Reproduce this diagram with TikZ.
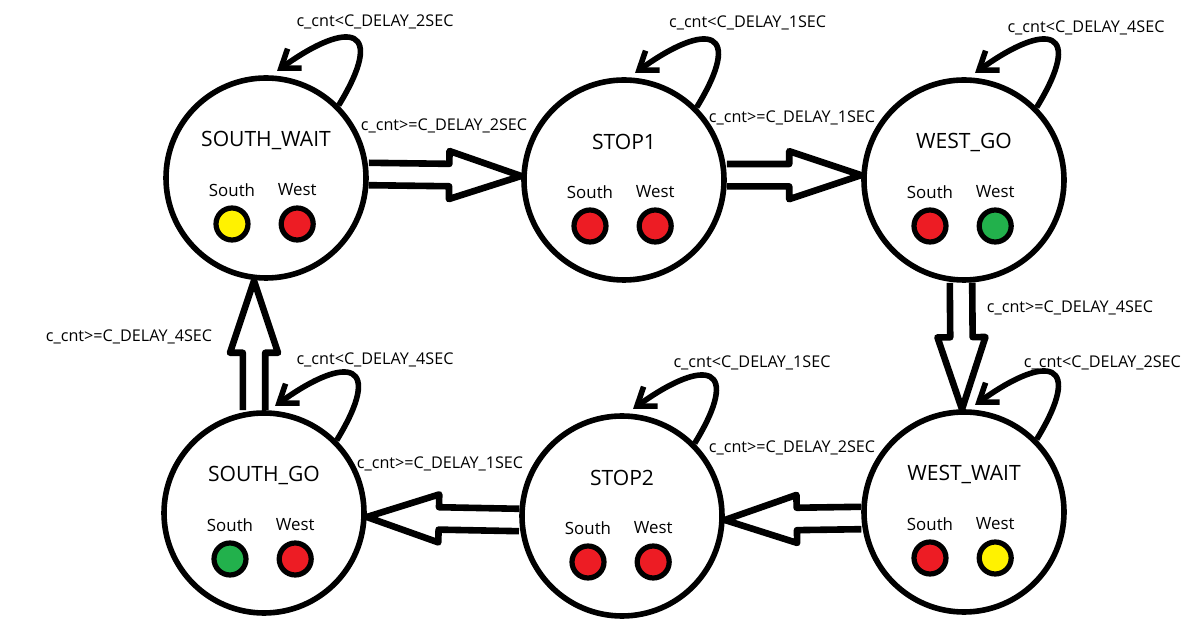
\documentclass[tikz,border=0pt]{standalone}
\usepackage{fontspec}
\setmainfont{Open Sans}
\usetikzlibrary{positioning}
\usetikzlibrary{calc, arrows.meta}

\definecolor{lampred}{RGB}{237,28,36}
\definecolor{lampyellow}{RGB}{255,242,0}
\definecolor{lampgreen}{RGB}{34,177,76}

\tikzset{
  state/.style={circle, draw, line width=0.14cm, minimum size=5cm, inner sep=0pt},
  statename/.style={font=\fontsize{15pt}{17pt}\selectfont},
  lampname/.style={font=\fontsize{12pt}{14pt}\selectfont},
  lamp/.style={circle, draw, line width=0.13cm, minimum size=0.8cm, inner sep=0pt},
  cond/.style={font=\fontsize{11.5pt}{13pt}\selectfont},
  selfloop/.style={line width=0.14cm, -{Straight Barb[length=0.42cm, width=0.6cm]}},
  hollow/.style={line width=0.165cm, line join=round, to path={
    ($(\tikztostart)!0.28cm!90:(\tikztotarget)$)
    -- ($(\tikztotarget)!1.8cm!(\tikztostart)!0.28cm!90:(\tikztotarget)$)
    -- ($(\tikztotarget)!1.8cm!(\tikztostart)!0.6cm!90:(\tikztotarget)$)
    -- (\tikztotarget)
    -- ($(\tikztotarget)!1.8cm!(\tikztostart)!0.6cm!-90:(\tikztotarget)$)
    -- ($(\tikztotarget)!1.8cm!(\tikztostart)!0.28cm!-90:(\tikztotarget)$)
    -- ($(\tikztostart)!0.28cm!-90:(\tikztotarget)$)}}
}

\begin{document}
\begin{tikzpicture}
\useasboundingbox (0,0) rectangle (29.875,15.5);

% states with their two lamps
\foreach \n/\x/\y/\name/\cs/\cw in {sw/6.65/11.05/SOUTH\_WAIT/lampyellow/lampred,
    sone/15.6/11/STOP1/lampred/lampred, wg/24.1/11/WEST\_GO/lampred/lampgreen,
    ww/24.1/2.7/WEST\_WAIT/lampred/lampyellow, stwo/15.55/2.6/STOP2/lampred/lampred,
    sg/6.6/2.675/SOUTH\_GO/lampgreen/lampred}{
  \node[state] (\n) at (\x,\y) {};
  \node[statename] (\n-name) at (\x,\y+0.95) {\name};
  \node[lampname] (\n-ls) at (\x-0.85,\y-0.3) {South};
  \node[lampname] (\n-lw) at (\x+0.78,\y-0.3) {West};
  \node[lamp,fill=\cs] (\n-s) at (\x-0.85,\y-1.15) {};
  \node[lamp,fill=\cw] (\n-w) at (\x+0.78,\y-1.15) {};
  \draw[selfloop] (\n.45) .. controls ($(\n)+(3.0,3.75)$) and ($(\n)+(2.125,4.0)$) .. ($(\n)+(0.275,2.675)$);
}

% transitions
\draw[hollow] ([yshift=0.1cm]sw.east) to ([yshift=0.1cm]sone.west);
\draw[hollow] ([yshift=0.12cm]sone.east) to ([yshift=0.12cm]wg.west);
\draw[hollow] ([xshift=-0.075cm]wg.south) to ([xshift=-0.05cm]ww.north);
\draw[hollow] ([yshift=-0.15cm]ww.west) to ([yshift=-0.1cm]stwo.east);
\draw[hollow] ([yshift=-0.1cm]stwo.west) to ([yshift=-0.1cm]sg.east);
\draw[hollow] ([xshift=-0.25cm]sg.north) to ([xshift=-0.3cm]sw.south);

% conditions
\node[cond] (sw-stay) at (9.375,14.95) {c\_cnt<C\_DELAY\_2SEC};
\node[cond] (sw-next) at (11.1,12.35) {c\_cnt>=C\_DELAY\_2SEC};
\node[cond] (sone-stay) at (18.69,14.925) {c\_cnt<C\_DELAY\_1SEC};
\node[cond] (sone-next) at (19.8,12.55) {c\_cnt>=C\_DELAY\_1SEC};
\node[cond] (wg-stay) at (27.15,14.8) {c\_cnt<C\_DELAY\_4SEC};
\node[cond] (wg-next) at (26.75,7.8) {c\_cnt>=C\_DELAY\_4SEC};
\node[cond] (ww-stay) at (27.56,6.425) {c\_cnt<C\_DELAY\_2SEC};
\node[cond] (ww-next) at (19.8,4.3) {c\_cnt>=C\_DELAY\_2SEC};
\node[cond] (stwo-stay) at (18.8,6.425) {c\_cnt<C\_DELAY\_1SEC};
\node[cond] (stwo-next) at (11.0,3.9) {c\_cnt>=C\_DELAY\_1SEC};
\node[cond] (sg-stay) at (9.375,6.5) {c\_cnt<C\_DELAY\_4SEC};
\node[cond] (sg-next) at (3.225,7.075) {c\_cnt>=C\_DELAY\_4SEC};

\end{tikzpicture}
\end{document}
